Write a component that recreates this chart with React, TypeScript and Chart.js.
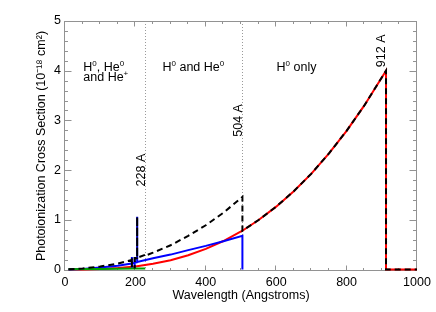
import React, { useEffect, useRef } from 'react';
import { Chart, registerables } from 'chart.js';

Chart.register(...registerables);

const FONT = '"Liberation Sans", Arial, Helvetica, sans-serif';

// Axis tick labels
const xTickLabels = [0, 200, 400, 600, 800, 1000];
const yTickLabels = [0, 1, 2, 3, 4, 5];

// H0 cross section (red)
const hWl = [10, 50, 100, 150, 200, 250, 300, 350, 400, 450, 504, 550, 600, 650, 700, 750, 800, 850, 912, 912, 1000];
const hSigma = [0.0, 0.001, 0.009, 0.028, 0.062, 0.114, 0.188, 0.287, 0.415, 0.573, 0.78, 0.996, 1.265, 1.576, 1.93, 2.336, 2.79, 3.296, 4.0, 0.0, 0.0];

// He0 cross section (blue)
const he0Wl = [10, 50, 100, 150, 190, 190, 190, 190, 198, 198, 198, 198, 205, 205, 205, 250, 300, 350, 400, 450, 504, 504];
const he0Sigma = [0.0, 0.012, 0.04, 0.075, 0.12, 0.25, 0.02, 0.12, 0.135, 0.25, 0.02, 0.135, 0.145, 1.06, 0.15, 0.225, 0.3, 0.39, 0.475, 0.57, 0.68, 0.0];

// He+ cross section (green)
const hepWl = [10, 50, 100, 150, 200, 228];
const hepSigma = [0.005, 0.008, 0.012, 0.015, 0.018, 0.02];

// Total (black dashed)
const totWl = [10, 50, 100, 150, 190, 190, 190, 190, 198, 198, 198, 198, 205, 205, 205, 228, 228, 250, 300, 350, 400, 450, 504, 504, 550, 600, 650, 700, 750, 800, 850, 912, 912, 1000];
const totSigma = [0.005, 0.021, 0.061, 0.118, 0.19, 0.25, 0.02, 0.19, 0.21, 0.25, 0.02, 0.21, 0.234, 1.06, 0.235, 0.298, 0.278, 0.339, 0.488, 0.677, 0.89, 1.143, 1.46, 0.78, 0.996, 1.265, 1.576, 1.93, 2.336, 2.79, 3.296, 4.0, 0.0, 0.0];

// Ionization thresholds (dotted lines + rotated labels)
const thresholdWl = [228, 504];
const edgeLabels = ['228 A', '504 A', '912 A'];
const edgeLabelWl = [228, 504, 912];
const edgeLabelY = [2.0, 3.0, 4.4];

type Part = { t: string; sup?: boolean };
const regionTexts: Part[][] = [
  [{ t: 'H' }, { t: '0', sup: true }, { t: ', He' }, { t: '0', sup: true }],
  [{ t: 'and He' }, { t: '+', sup: true }],
  [{ t: 'H' }, { t: '0', sup: true }, { t: ' and He' }, { t: '0', sup: true }],
  [{ t: 'H' }, { t: '0', sup: true }, { t: ' only' }],
];
const regionWl = [52, 52, 277, 601];
const regionY = [3.99, 3.8, 3.99, 3.99];

const pts = (xs: number[], ys: number[]) => xs.map((x, i) => ({ x, y: ys[i] }));

export default function App() {
  const ref = useRef<HTMLCanvasElement | null>(null);

  useEffect(() => {
    if (!ref.current) return;
    const AXIS = '#929292';

    const framePlugin = {
      id: 'frame',
      beforeDatasetsDraw(chart: any) {
        const { ctx, chartArea: a, scales } = chart;
        const xs = scales.x;
        const ys = scales.y;
        ctx.save();
        ctx.strokeStyle = '#9a9a9a';
        ctx.lineWidth = 1;
        ctx.setLineDash([1, 2]);
        for (const w of thresholdWl) {
          const px = Math.round(xs.getPixelForValue(w)) + 0.5;
          ctx.beginPath();
          ctx.moveTo(px, a.top);
          ctx.lineTo(px, a.bottom);
          ctx.stroke();
        }
        ctx.setLineDash([]);
        ctx.strokeStyle = AXIS;
        ctx.lineWidth = 1;
        const l = a.left - 0.5, r = a.right - 0.5, t = a.top + 0.5, b = a.bottom - 0.5;
        ctx.strokeRect(l, t, r - l, b - t);
        ctx.beginPath();
        for (let v = xs.min; v <= xs.max + 1e-6; v += 50) {
          const major = Math.abs(v % 200) < 1e-6;
          const len = major ? 5 : 2.5;
          const px = Math.round(xs.getPixelForValue(v)) - 0.5;
          ctx.moveTo(px, b);
          ctx.lineTo(px, b - len);
          ctx.moveTo(px, t);
          ctx.lineTo(px, t + len);
        }
        for (let i = 0; i <= 25; i++) {
          const v = i * 0.2;
          const major = i % 5 === 0;
          const len = major ? 7 : 3.5;
          const py = Math.round(ys.getPixelForValue(v)) + 0.5;
          ctx.moveTo(l, py);
          ctx.lineTo(l + len, py);
          ctx.moveTo(r, py);
          ctx.lineTo(r - len, py);
        }
        ctx.stroke();
        ctx.restore();
      },
      afterDatasetsDraw(chart: any) {
        const { ctx, scales } = chart;
        const xs = scales.x;
        const ys = scales.y;
        ctx.save();
        ctx.fillStyle = '#000';
        ctx.textBaseline = 'alphabetic';
        ctx.textAlign = 'left';
        regionTexts.forEach((parts, i) => {
          let cx = xs.getPixelForValue(regionWl[i]);
          const by = ys.getPixelForValue(regionY[i]);
          for (const p of parts) {
            ctx.font = p.sup ? `8px ${FONT}` : `12.5px ${FONT}`;
            ctx.fillText(p.t, cx, p.sup ? by - 5 : by);
            cx += ctx.measureText(p.t).width;
          }
        });
        ctx.font = `12.5px ${FONT}`;
        ctx.textAlign = 'center';
        ctx.textBaseline = 'middle';
        edgeLabels.forEach((txt, i) => {
          const px = xs.getPixelForValue(edgeLabelWl[i]) - 4;
          const py = ys.getPixelForValue(edgeLabelY[i]);
          ctx.save();
          ctx.translate(px, py);
          ctx.rotate(-Math.PI / 2);
          ctx.fillText(txt, 0, 0);
          ctx.restore();
        });
        ctx.restore();
      },
    };

    const line = (data: any, color: string, dash?: number[]) => ({
      data,
      showLine: true,
      borderColor: color,
      backgroundColor: color,
      borderWidth: 2,
      pointRadius: 0,
      fill: false,
      tension: 0,
      borderDash: dash || [],
      borderJoinStyle: 'miter',
    });

    const chart = new Chart(ref.current, {
      type: 'scatter',
      data: {
        datasets: [
          line(pts(totWl, totSigma), '#000000', [6, 4]),
          line(pts(hepWl, hepSigma), '#00a000'),
          line(pts(he0Wl, he0Sigma), '#0000ff'),
          line(pts(hWl, hSigma), '#ff0000'),
        ] as any,
      },
      options: {
        responsive: false,
        animation: false,
        layout: { padding: { top: 21, right: 19, left: 0, bottom: 0 } },
        plugins: { legend: { display: false }, tooltip: { enabled: false } },
        scales: {
          x: {
            type: 'linear',
            min: 0,
            max: 1000,
            afterBuildTicks: (s: any) => {
              s.ticks = xTickLabels.map((v) => ({ value: v }));
            },
            afterFit: (s: any) => {
              s.height = 41;
            },
            grid: { display: false, drawTicks: false },
            border: { display: false },
            ticks: {
              color: '#000',
              font: { size: 12.5, family: FONT },
              padding: 4,
              maxRotation: 0,
              autoSkip: false,
              callback: (v: any) => String(v),
            },
            title: {
              display: true,
              text: 'Wavelength (Angstroms)',
              color: '#000',
              font: { size: 12.5, family: FONT },
              padding: { top: 0, bottom: 8.5 },
            },
          },
          y: {
            type: 'linear',
            min: -0.03,
            max: 5,
            afterBuildTicks: (s: any) => {
              s.ticks = yTickLabels.map((v) => ({ value: v }));
            },
            afterFit: (s: any) => {
              s.width = 65;
            },
            grid: { display: false, drawTicks: false },
            border: { display: false },
            ticks: {
              color: '#000',
              font: { size: 12.5, family: FONT },
              padding: 4,
              autoSkip: false,
              callback: (v: any) => String(v),
            },
            title: {
              display: true,
              text: 'Photoionization Cross Section (10⁻¹⁸ cm²)',
              color: '#000',
              font: { size: 12.5, family: FONT },
              padding: { top: 34.5, bottom: 0 },
            },
          },
        },
      } as any,
      plugins: [framePlugin],
    });
    return () => chart.destroy();
  }, []);

  return (
    <div style={{ position: 'fixed', left: 0, top: 0, width: 436, height: 312, background: '#fff' }}>
      <canvas ref={ref} width={436} height={312} style={{ display: 'block', width: 436, height: 312 }} />
    </div>
  );
}
